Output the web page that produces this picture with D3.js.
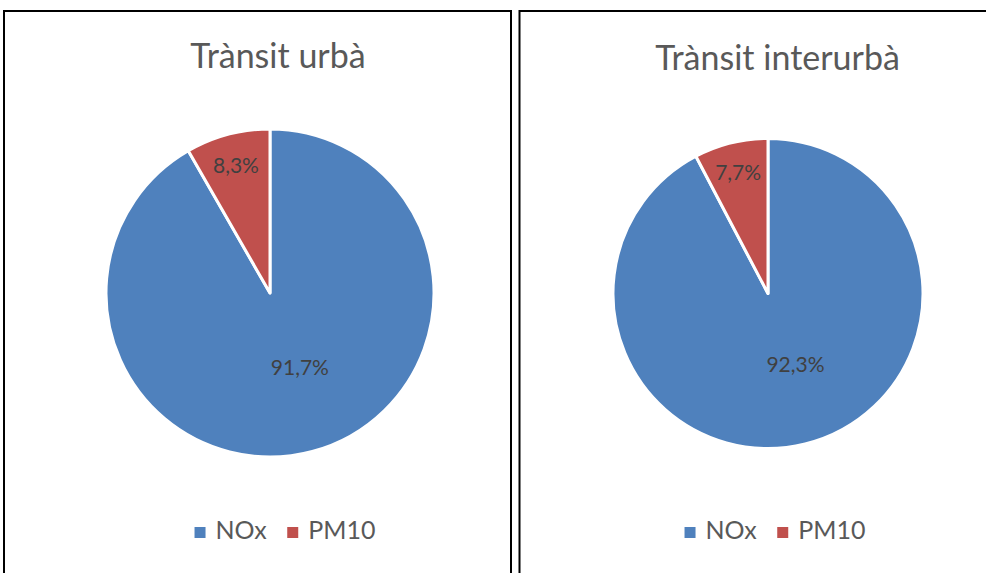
<!DOCTYPE html>
<html>
<head>
<meta charset="utf-8">
<script src="https://cdn.jsdelivr.net/npm/d3@7/dist/d3.min.js"></script>
<style>
  html, body { margin: 0; padding: 0; background: #fff; }
  svg { display: block; }
  text { font-family: Lato, "Noto Sans", sans-serif; }
</style>
</head>
<body>
<svg id="chart" width="986" height="573"></svg>
<script>
// Emission share by pollutant, two traffic types
const titles = ["Trànsit urbà", "Trànsit interurbà"];
const pollutants = ["NOx", "PM10"];
const urbanShares = [91.7, 8.3];
const interurbanShares = [92.3, 7.7];
const colors = ["#4F81BD", "#C0504D"];

const series = [urbanShares, interurbanShares];

// Panel layout
const panels = [
  { x: 4, y: 11, w: 507, h: 640, cx: 270, cy: 293, r: 164, titleX: 278, titleY: 68, legendX: 285, legendY: 539 },
  { x: 519.5, y: 11, w: 520, h: 640, cx: 768, cy: 293.5, r: 155, titleX: 777.5, titleY: 70, legendX: 775, legendY: 539 }
];
// label radius (fraction of r) and nudge per slice
const labelFrac = [0.47, 0.805];
const labelNudge = [[10, -1], [0, -1]];

const svg = d3.select("#chart");
const fmt = v => d3.format(".1f")(v).replace(".", ",") + "%";

const pie = d3.pie().sort(null).value(d => d);

panels.forEach((p, i) => {
  const g = svg.append("g");

  g.append("rect")
    .attr("x", p.x).attr("y", p.y)
    .attr("width", p.w).attr("height", p.h)
    .attr("fill", "#fff")
    .attr("stroke", "#000")
    .attr("stroke-width", 2);

  g.append("text")
    .attr("x", p.titleX).attr("y", p.titleY)
    .attr("text-anchor", "middle")
    .attr("fill", "#595959")
    .style("font-size", "34px")
    .text(titles[i]);

  const arcs = pie(series[i]);
  const arc = d3.arc().innerRadius(0).outerRadius(p.r);

  const pg = g.append("g").attr("transform", `translate(${p.cx},${p.cy})`);
  pg.selectAll("path")
    .data(arcs)
    .join("path")
    .attr("d", arc)
    .attr("fill", (d, j) => colors[j])
    .attr("stroke", "#fff")
    .attr("stroke-width", 3)
    .attr("stroke-linejoin", "round");

  pg.selectAll("text.lbl")
    .data(arcs)
    .join("text")
    .attr("class", "lbl")
    .each(function (d, j) {
      const lr = p.r * labelFrac[j];
      const c = d3.arc().innerRadius(lr).outerRadius(lr).centroid(d);
      d3.select(this)
        .attr("x", c[0] + labelNudge[j][0])
        .attr("y", c[1] + labelNudge[j][1]);
    })
    .attr("text-anchor", "middle")
    .attr("dominant-baseline", "central")
    .attr("fill", "#404040")
    .style("font-size", "21px")
    .text(d => fmt(d.data));

  // legend
  const lg = g.append("g");
  const items = lg.selectAll("g.item")
    .data(pollutants)
    .join("g")
    .attr("class", "item");
  items.append("rect")
    .attr("width", 11).attr("height", 11)
    .attr("y", -12)
    .attr("fill", (d, j) => colors[j]);
  items.append("text")
    .attr("x", 21)
    .attr("y", 0)
    .attr("fill", "#595959")
    .style("font-size", "25px")
    .text(d => d);

  let cursor = 0;
  const gap = 20;
  items.each(function () {
    const w = this.getBBox().width;
    d3.select(this).attr("transform", `translate(${cursor},0)`);
    cursor += w + gap;
  });
  const total = cursor - gap;
  lg.attr("transform", `translate(${p.legendX - total / 2},${p.legendY})`);
});
</script>
</body>
</html>
